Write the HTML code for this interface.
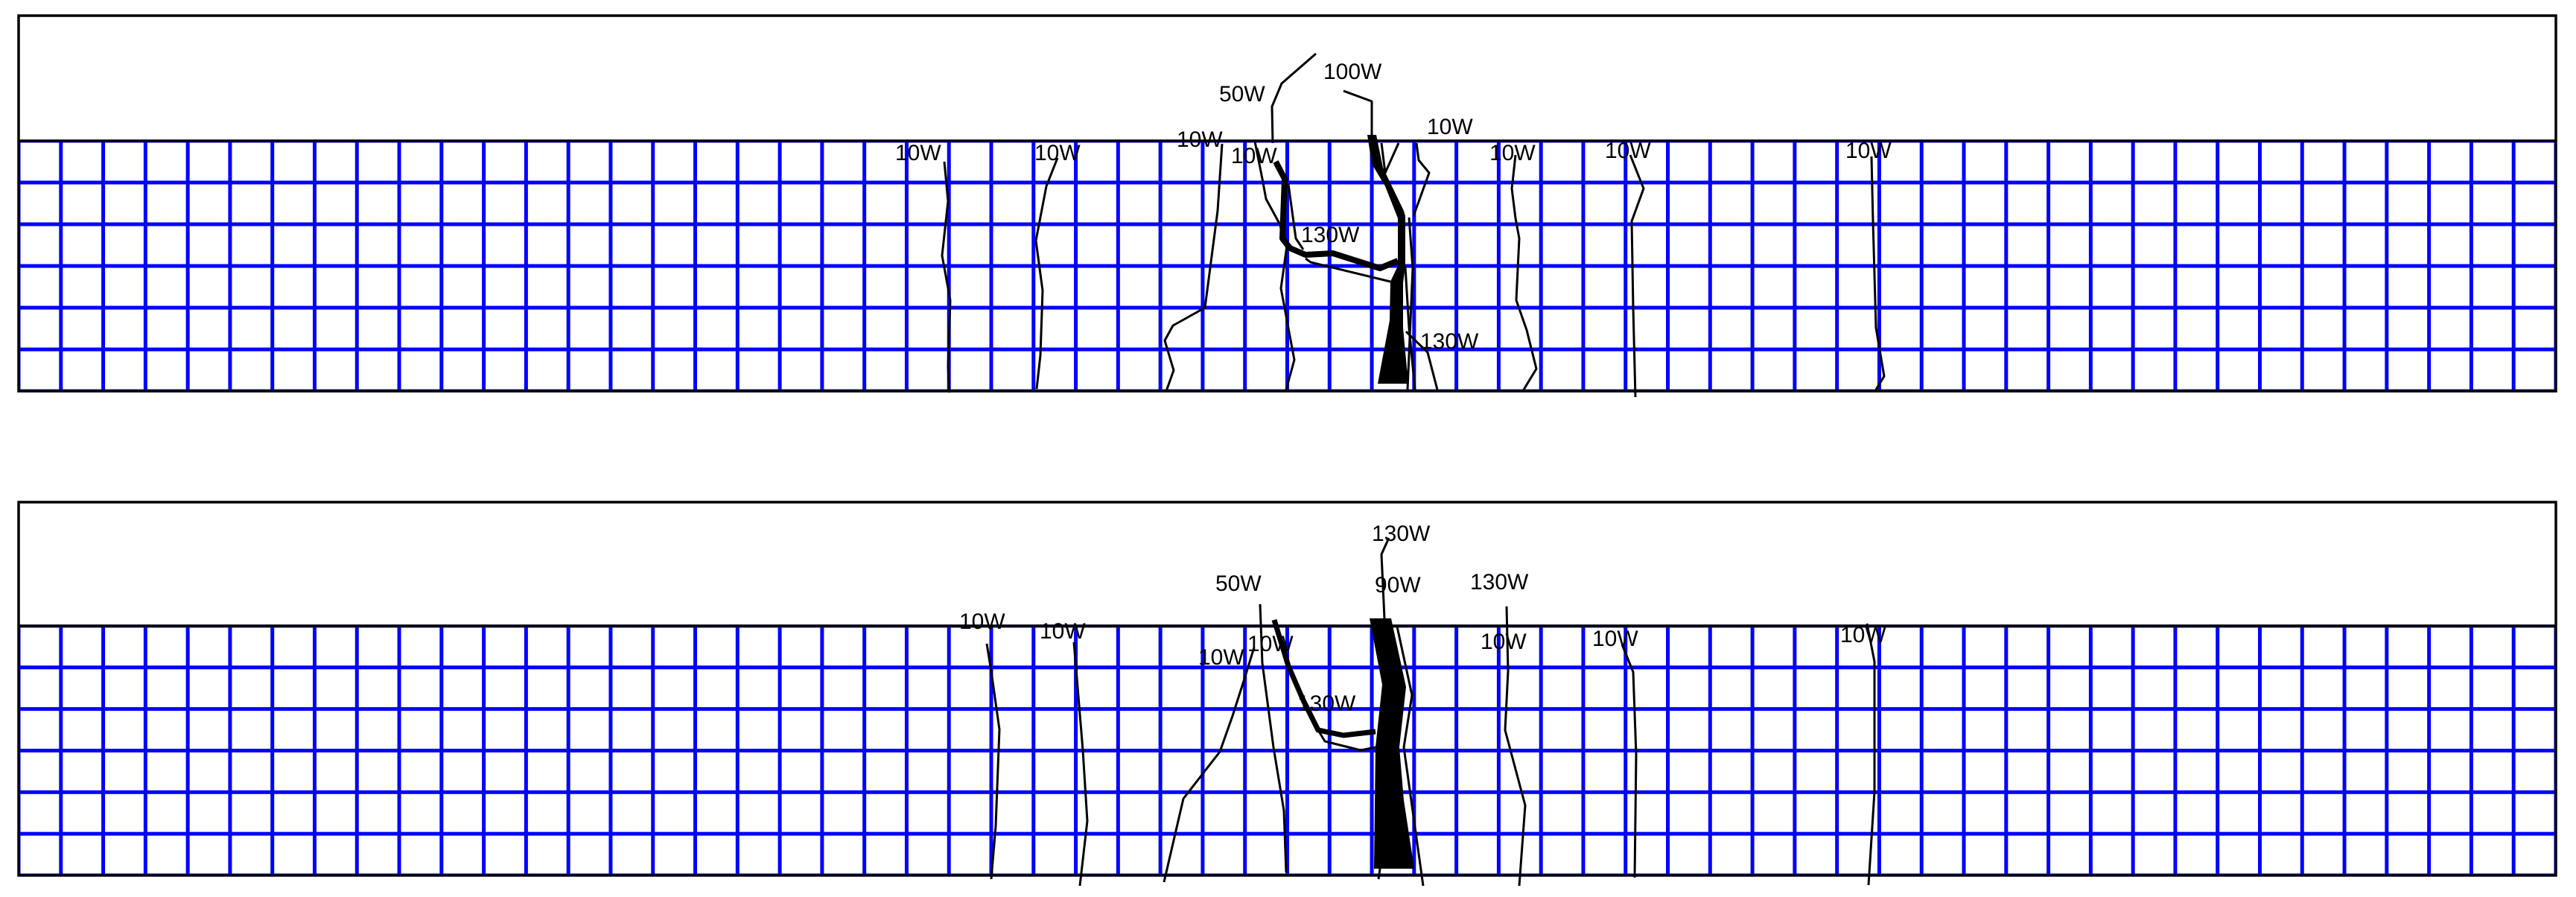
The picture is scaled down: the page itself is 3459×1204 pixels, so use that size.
<!DOCTYPE html>
<html><head><meta charset="utf-8"><style>
html,body{margin:0;padding:0;background:#fff;}
svg{display:block;}
text{font-family:"Liberation Sans",Arial,sans-serif;font-size:30px;fill:#000;}
</style></head><body>
<svg width="3459" height="1204" viewBox="0 0 3459 1204" xmlns="http://www.w3.org/2000/svg">
<defs>
<pattern id="g1" patternUnits="userSpaceOnUse" x="22.5" y="186.5" width="56.783" height="56">
<line x1="2.5" y1="0" x2="2.5" y2="56" stroke="#0000ff" stroke-width="5"/>
<line x1="0" y1="2.5" x2="56.783" y2="2.5" stroke="#0000ff" stroke-width="5"/>
</pattern>
<pattern id="g2" patternUnits="userSpaceOnUse" x="22.5" y="837.5" width="56.783" height="55.83">
<line x1="2.5" y1="0" x2="2.5" y2="56" stroke="#0000ff" stroke-width="5"/>
<line x1="0" y1="2.5" x2="56.783" y2="2.5" stroke="#0000ff" stroke-width="5"/>
</pattern>
</defs>
<!-- panel 1 -->
<rect x="25" y="189" width="3407" height="336" fill="url(#g1)"/>
<rect x="25" y="21" width="3407" height="504" fill="none" stroke="#000" stroke-width="3.5"/>
<line x1="25" y1="189" x2="3432" y2="189" stroke="#000" stroke-width="3.5"/>
<!-- panel 2 -->
<rect x="25" y="840" width="3407" height="335" fill="url(#g2)"/>
<rect x="25" y="674" width="3407" height="501" fill="none" stroke="#000" stroke-width="3.5"/>
<line x1="25" y1="840" x2="3432" y2="840" stroke="#000" stroke-width="3.5"/>

<g fill="none" stroke="#000" stroke-width="3" stroke-linejoin="round">
<!-- panel 1 curves -->
<polyline points="1268,217 1273,270 1265,343 1276,403 1273,492 1275,527"/>
<polyline points="1420,212 1405,250 1391,323 1400,390 1397,477 1392,522"/>
<polyline points="1641,193 1635,283 1618,413 1575,437 1564,457 1576,497 1566,525"/>
<polyline points="1685,190 1695,240 1700,267 1718,300 1728,330 1720,387 1738,483 1727,523"/>
<polyline points="1767,72 1721,112 1708,143 1709,192"/>
<polyline points="1804,122 1842,136 1842,182"/>
<polyline points="1855,192 1860,232 1878,192"/>
<polyline points="1853,232 1883,292"/>
<polyline points="1730,247 1740,320 1750,335"/>
<polyline points="1753,347 1760,352 1867,378"/>
<polyline points="1892,292 1897,360 1890,523"/>
<polyline points="1887,358 1892,440 1900,523"/>
<polyline points="1888,445 1917,473 1930,523"/>
<polyline points="1902,192 1905,215 1919,232 1898,290"/>
<polyline points="2035,208 2031,245 2030,253 2035,293 2040,320 2036,403 2050,443 2063,495 2046,523"/>
<polyline points="2189,208 2207,253 2191,297 2193,413 2196,533"/>
<polyline points="2513,210 2515,297 2519,440 2530,505 2519,523"/>
<polyline points="1713,217 1725,240 1722,320 1732,333 1753,342 1790,340 1853,360 1877,350" stroke-width="8"/>
<!-- panel 2 curves -->
<polyline points="1325,864 1331,901 1342,979 1337,1109 1331,1180"/>
<polyline points="1442,862 1446,910 1454,1007 1460,1102 1450,1189"/>
<polyline points="1692,811 1695,890 1710,1003 1724,1088 1727,1171"/>
<polyline points="1684,869 1672,908 1655,961 1638,1009 1589,1072 1563,1184"/>
<polyline points="1711,832 1730,894 1750,940 1770,980 1804,987 1847,982" stroke-width="7"/>
<polyline points="1770,980 1779,995 1827,1007 1847,1003"/>
<polyline points="1876,841 1896,933 1885,1003 1911,1189"/>
<polyline points="1865,722 1855,744 1859,830"/>
<polyline points="2023,814 2025,901 2021,980 2048,1081 2040,1189"/>
<polyline points="2178,865 2193,902 2197,1013 2195,1178"/>
<polyline points="2507,837 2517,888 2517,1063 2509,1188"/>
<polyline points="1853,1166 1851,1180"/>
</g>
<!-- trunks -->
<polygon points="1836,181 1848,181 1857,225 1885,283 1887,290 1887,357 1884,380 1884,440 1891,515 1850,515 1866,430 1867,378 1877,357 1877,293 1860,250 1842,220" fill="#000"/>
<polygon points="1839,830 1868,830 1888,922 1879,1003 1885,1074 1899,1166 1845,1166 1847,1003 1856,919" fill="#000"/>

<!-- labels panel 1 -->
<text x="1202" y="215">10W</text>
<text x="1389" y="215">10W</text>
<text x="1580" y="197">10W</text>
<text x="1653" y="219">10W</text>
<text x="1637" y="136">50W</text>
<text x="1777" y="106">100W</text>
<text x="1916" y="180">10W</text>
<text x="1747" y="325">130W</text>
<text x="1907" y="468">130W</text>
<text x="2000" y="215">10W</text>
<text x="2155" y="212">10W</text>
<text x="2478" y="212">10W</text>
<!-- labels panel 2 -->
<text x="1288" y="844">10W</text>
<text x="1396" y="857">10W</text>
<text x="1609" y="892">10W</text>
<text x="1675" y="874">10W</text>
<text x="1632" y="793">50W</text>
<text x="1742" y="954">130W</text>
<text x="1842" y="726">130W</text>
<text x="1846" y="795">90W</text>
<text x="1974" y="791">130W</text>
<text x="1988" y="871">10W</text>
<text x="2138" y="867">10W</text>
<text x="2471" y="862">10W</text>
</svg>
</body></html>
